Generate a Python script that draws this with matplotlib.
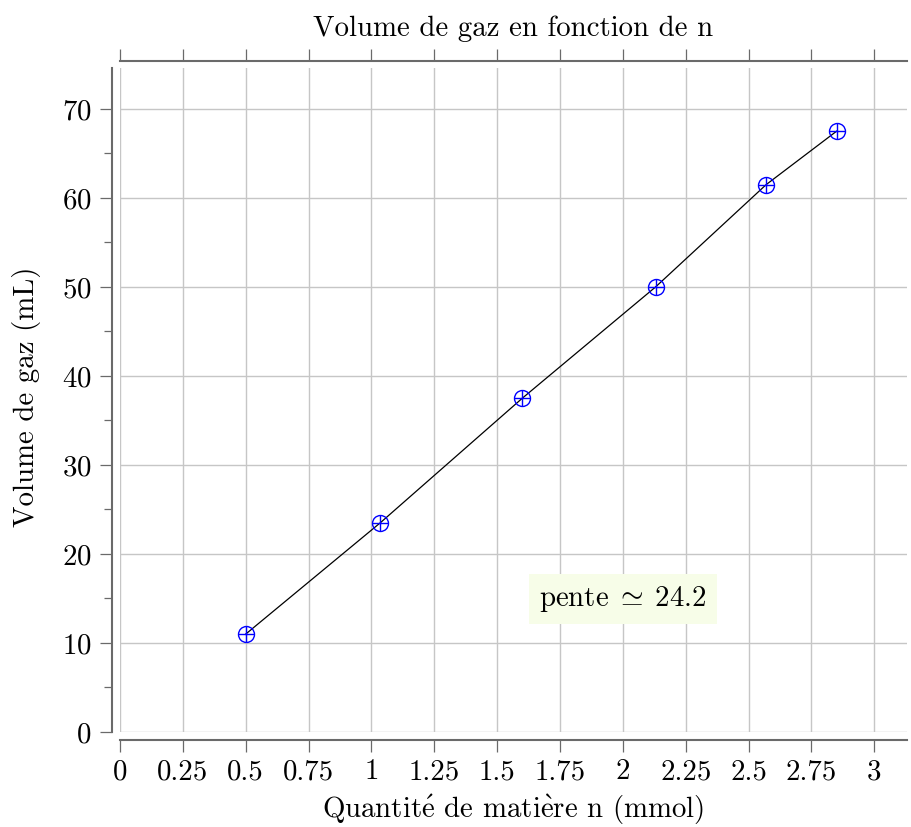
import matplotlib
matplotlib.use("Agg")
import matplotlib.pyplot as plt
from matplotlib.ticker import MultipleLocator

plt.rcParams['mathtext.fontset'] = 'cm'
plt.rcParams['font.family'] = ['cmr10', 'DejaVu Serif']
plt.rcParams['axes.formatter.use_mathtext'] = True

# data
n_mmol = [0.5, 1.035, 1.6, 2.13, 2.57, 2.85]
volume_ml = [11.0, 23.5, 37.5, 50.0, 61.5, 67.5]
x_ticks = [0, 0.25, 0.5, 0.75, 1, 1.25, 1.5, 1.75, 2, 2.25, 2.5, 2.75, 3]
x_labels = ['0', '0.25', '0.5', '0.75', '1', '1.25', '1.5', '1.75', '2', '2.25', '2.5', '2.75', '3']
y_ticks = [0, 10, 20, 30, 40, 50, 60, 70]

W, H = 911, 827
PT = 0.72  # points per pixel at 100 dpi
fig = plt.figure(figsize=(W / 100, H / 100), dpi=100)
ax = fig.add_axes([120 / W, 1 - 732 / H, (907 - 120) / W, (732 - 68) / H])

fs = 20.8
spine_col = '#6a6a6a'

ax.plot(n_mmol, volume_ml, color='black', lw=0.9, zorder=3)
ax.plot(n_mmol, volume_ml, ls='none', marker='o', ms=11.5, mfc='none', mec='blue', mew=1.0, zorder=4)
ax.plot(n_mmol, volume_ml, ls='none', marker='+', ms=11.5, mec='blue', mew=1.0, zorder=4)

ax.set_xlim(0, 3.13)
ax.set_ylim(0, 74.6)
ax.set_xticks(x_ticks)
ax.set_xticklabels(x_labels)
ax.set_yticks(y_ticks)
ax.yaxis.set_minor_locator(MultipleLocator(5))
ax.grid(True, color='#c6c6c6', lw=1.0)
ax.set_axisbelow(True)

ax.spines['right'].set_visible(False)
ax.spines['left'].set_position(('outward', 8 * PT))
ax.spines['bottom'].set_position(('outward', 8 * PT))
ax.spines['top'].set_position(('outward', 7 * PT))
for s in ['left', 'bottom', 'top']:
    ax.spines[s].set_color(spine_col)
    ax.spines[s].set_linewidth(1.5)

ax.tick_params(axis='both', which='major', direction='out', length=12 * PT, width=0.9,
               color=spine_col, labelsize=fs)
ax.tick_params(axis='x', which='major', pad=5)
ax.tick_params(axis='y', which='major', pad=6)
ax.tick_params(axis='y', which='minor', direction='out', length=8 * PT, width=0.9, color=spine_col)
ax.tick_params(axis='x', top=True, labeltop=False)

# labels and title placed in pixel positions
fig.text(513 / W, 1 - 36 / H, 'Volume de gaz en fonction de n', fontsize=fs,
         ha='center', va='baseline')
fig.text(513 / W, 1 - 818 / H, r'Quantit$\mathrm{\acute{e}}$ de mati$\mathrm{\grave{e}}$re n (mmol)',
         fontsize=fs, ha='center', va='baseline')
fig.text(27 / W, 1 - 397 / H, 'Volume de gaz (mL)', fontsize=fs, rotation=90,
         ha='center', va='center')

ax.text(2.0, 14.9, r'$\mathrm{pente}\;\simeq\;24.2$', fontsize=fs, ha='center', va='center',
        bbox=dict(boxstyle='square,pad=0.35', fc='#f7fde8', ec='none'), zorder=5)

fig.savefig('out.png', dpi=100)
